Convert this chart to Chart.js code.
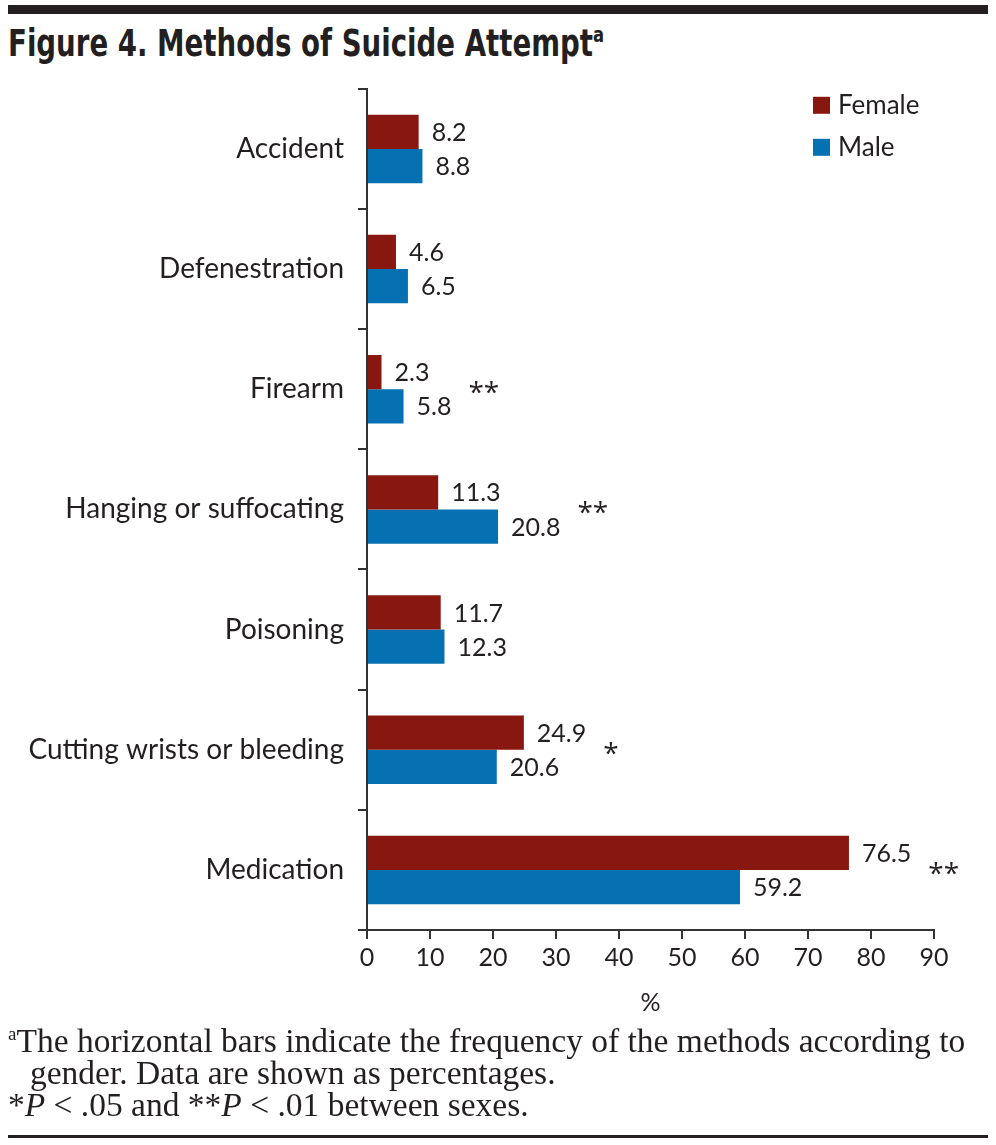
<!DOCTYPE html>
<html>
<head>
<meta charset="utf-8">
<script src="https://cdn.jsdelivr.net/npm/chart.js"></script>
<style>
  body { margin: 0; background: #fff; width: 996px; height: 1145px; position: relative; overflow: hidden; }
  .rule-top { position: absolute; left: 8px; top: 5px; width: 980px; height: 9px; background: #231f20; }
  .title { position: absolute; left: 8px; top: 22px; font-family: "DejaVu Sans Condensed", "Liberation Sans", sans-serif; font-weight: bold; font-size: 37px; color: #231f20; white-space: nowrap; transform: scaleX(0.83); transform-origin: left top; }
  .title sup { font-size: 22px; vertical-align: 14px; line-height: 0; }
  .chart-box { position: absolute; left: 0; top: 58px; width: 996px; height: 972px; }
  .note { position: absolute; left: 8px; top: 1025px; font-family: "Liberation Serif", serif; font-size: 33.5px; line-height: 32px; color: #231f20; white-space: nowrap; }
  .note sup { font-size: 19px; vertical-align: 12px; line-height: 0; }
  .note .indent { padding-left: 22px; }
  .rule-bottom { position: absolute; left: 8px; top: 1135px; width: 980px; height: 3px; background: #231f20; }
</style>
</head>
<body>
<div class="rule-top"></div>
<div class="title">Figure 4. Methods of Suicide Attempt<sup>a</sup></div>
<div class="chart-box"><canvas id="methodsChart"></canvas></div>
<div class="note">
  <div><sup>a</sup>The horizontal bars indicate the frequency of the methods according to</div>
  <div class="indent">gender. Data are shown as percentages.</div>
  <div>*<i>P</i> &lt; .05 and **<i>P</i> &lt; .01 between sexes.</div>
</div>
<div class="rule-bottom"></div>

<script>
// Data
const methods = ['Accident', 'Defenestration', 'Firearm', 'Hanging or suffocating', 'Poisoning', 'Cutting wrists or bleeding', 'Medication'];
const femaleValues = [8.2, 4.6, 2.3, 11.3, 11.7, 24.9, 76.5];
const maleValues = [8.8, 6.5, 5.8, 20.8, 12.3, 20.6, 59.2];
const significance = ['', '', '**', '**', '', '*', '**'];
const xTicks = [0, 10, 20, 30, 40, 50, 60, 70, 80, 90];

const FEMALE_COLOR = '#881710';
const MALE_COLOR = '#0570b2';
const TEXT_COLOR = '#231f20';
const SANS = 'Lato, "Open Sans", sans-serif';

// Value labels, significance stars and legend
const annotatePlugin = {
    id: 'annotate',
    afterDatasetsDraw(chart) {
        const ctx = chart.ctx;
        const yScale = chart.scales.y;
        ctx.save();
        ctx.fillStyle = TEXT_COLOR;
        ctx.font = '25px ' + SANS;
        ctx.textBaseline = 'middle';
        ctx.textAlign = 'left';

        const labelEnds = methods.map(() => 0);
        chart.data.datasets.forEach((ds, di) => {
            const meta = chart.getDatasetMeta(di);
            meta.data.forEach((bar, i) => {
                const txt = ds.data[i].toFixed(1);
                const x = bar.x + 13;
                ctx.fillText(txt, x, bar.y + 1);
                labelEnds[i] = Math.max(labelEnds[i], x + ctx.measureText(txt).width);
            });
        });

        // stars
        ctx.font = '28px "Open Sans", sans-serif';
        ctx.textBaseline = 'alphabetic';
        significance.forEach((s, i) => {
            if (!s) return;
            const y = yScale.getPixelForValue(i);
            ctx.fillText(s, labelEnds[i] + 17, y + 13);
        });

        // legend
        ctx.font = '26px ' + SANS;
        ctx.textBaseline = 'middle';
        const lx = chart.chartArea.right - 121;
        chart.data.datasets.forEach((ds, di) => {
            const ly = chart.chartArea.top + 16 + di * 42;
            ctx.fillStyle = ds.backgroundColor;
            ctx.fillRect(lx, ly - 8, 17, 17);
            ctx.fillStyle = TEXT_COLOR;
            ctx.fillText(ds.label, lx + 25, ly + 1);
        });
        ctx.restore();
    }
};

const ctx = document.getElementById('methodsChart').getContext('2d');
const chart = new Chart(ctx, {
    type: 'bar',
    data: {
        labels: methods,
        datasets: [
            { label: 'Female', data: femaleValues, backgroundColor: FEMALE_COLOR },
            { label: 'Male', data: maleValues, backgroundColor: MALE_COLOR }
        ]
    },
    options: {
        indexAxis: 'y',
        responsive: true,
        maintainAspectRatio: false,
        animation: false,
        layout: { padding: { top: 6, right: 62, left: 0, bottom: 0 } },
        datasets: {
            bar: { categoryPercentage: 0.57, barPercentage: 1.0 }
        },
        plugins: {
            legend: { display: false },
            tooltip: { enabled: false }
        },
        scales: {
            x: {
                min: 0,
                max: 90,
                afterBuildTicks: (scale) => { scale.ticks = xTicks.map(v => ({ value: v })); },
                afterFit: (scale) => { scale.height = 100; },
                grid: { drawOnChartArea: false, drawTicks: true, tickLength: 9, color: '#333', lineWidth: 2 },
                border: { display: true, color: '#333', width: 2 },
                ticks: { color: TEXT_COLOR, font: { family: SANS, size: 25 }, padding: 4, maxRotation: 0 },
                title: { display: true, text: '%', color: TEXT_COLOR, font: { family: SANS, size: 25 }, padding: { top: 4, bottom: 12 } }
            },
            y: {
                afterFit: (scale) => { scale.width = 367; },
                grid: { drawOnChartArea: false, drawTicks: true, tickLength: 9, color: '#333', lineWidth: 2, offset: true },
                border: { display: true, color: '#333', width: 2 },
                ticks: { color: TEXT_COLOR, font: { family: SANS, size: 28 }, padding: 14 }
            }
        }
    },
    plugins: [annotatePlugin]
});
</script>
</body>
</html>
